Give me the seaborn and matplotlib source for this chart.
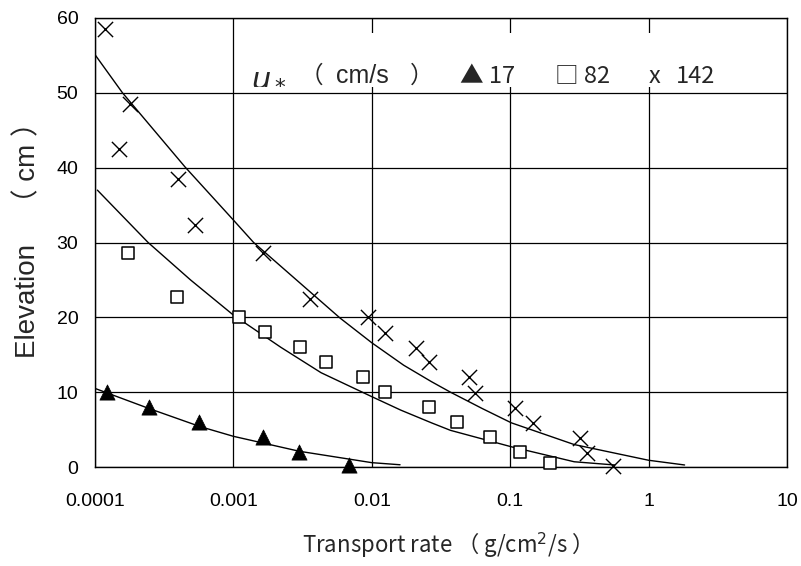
import matplotlib
matplotlib.use("Agg")
import matplotlib.pyplot as plt
from matplotlib.patches import Rectangle
import seaborn as sns
import pandas as pd

# ---- data ----
x17 = [1.22e-4, 2.47e-4, 5.66e-4, 1.65e-3, 2.96e-3, 6.8e-3]
y17 = [10.0, 8.0, 6.0, 4.0, 2.0, 0.3]

x82 = [1.73e-4, 3.9e-4, 1.1e-3, 1.7e-3, 3.05e-3, 4.7e-3, 8.7e-3, 0.0124, 0.026, 0.041, 0.072, 0.117, 0.195]
y82 = [28.6, 22.7, 20.0, 18.0, 16.0, 14.0, 12.0, 10.0, 8.0, 6.0, 4.0, 2.0, 0.5]

x142 = [1.18e-4, 1.5e-4, 1.8e-4, 4.0e-4, 5.3e-4, 1.65e-3, 3.6e-3, 9.4e-3, 0.0125, 0.021, 0.026, 0.050, 0.056, 0.108, 0.145, 0.32, 0.36, 0.55]
y142 = [58.5, 42.5, 48.5, 38.5, 32.4, 28.6, 22.4, 20.0, 17.9, 15.9, 14.0, 12.0, 9.9, 7.9, 5.9, 3.9, 1.9, 0.2]

# fitted curves
cx17 = [1e-4, 2.47e-4, 5.75e-4, 1e-3, 3.0e-3, 0.01, 0.016]
cy17 = [10.5, 7.8, 5.4, 4.1, 2.1, 0.58, 0.3]

cx82 = [1.04e-4, 2.42e-4, 4.9e-4, 1e-3, 2.2e-3, 4.3e-3, 0.01, 0.0162, 0.027, 0.037, 0.102, 0.29, 0.57]
cy82 = [37.0, 30.0, 25.0, 20.3, 16.0, 12.6, 9.4, 7.6, 5.9, 4.9, 2.7, 0.7, 0.27]

cx142 = [1e-4, 1.58e-4, 4.47e-4, 1e-3, 1.4e-3, 5.9e-3, 0.01, 0.017, 0.027, 0.037, 0.063, 0.102, 0.29, 1.0, 1.82]
cy142 = [55.1, 50.0, 40.1, 33.0, 30.0, 19.9, 16.6, 13.6, 11.4, 10.0, 7.8, 5.9, 3.0, 0.9, 0.27]

xticks = [0.0001, 0.001, 0.01, 0.1, 1, 10]
xticklabels = ["0.0001", "0.001", "0.01", "0.1", "1", "10"]
yticks = [0, 10, 20, 30, 40, 50, 60]

pts = pd.concat([
    pd.DataFrame({"x": x17, "y": y17, "u": "17"}),
    pd.DataFrame({"x": x82, "y": y82, "u": "82"}),
    pd.DataFrame({"x": x142, "y": y142, "u": "142"}),
])
curves = pd.concat([
    pd.DataFrame({"x": cx17, "y": cy17, "u": "17"}),
    pd.DataFrame({"x": cx82, "y": cy82, "u": "82"}),
    pd.DataFrame({"x": cx142, "y": cy142, "u": "142"}),
])

sns.set_style("white")
plt.rcParams["font.family"] = ["Liberation Sans", "Noto Sans CJK JP", "DejaVu Sans"]
CJK = ["Noto Sans CJK JP", "DejaVu Sans"]

fig = plt.figure(figsize=(8.01, 5.66), dpi=100)
ax = fig.add_axes([95/801, 1-467/566, (787-95)/801, (467-18)/566])

for u, g in curves.groupby("u", sort=False):
    sns.lineplot(data=g, x="x", y="y", ax=ax, color="black", lw=1.0,
                 sort=False, estimator=None, legend=False)

d = pts[pts.u == "17"]
sns.scatterplot(data=d, x="x", y="y", ax=ax, marker="^", s=120, color="black",
                edgecolor="black", linewidth=0.5, legend=False, zorder=5, clip_on=False)
d = pts[pts.u == "82"]
sns.scatterplot(data=d, x="x", y="y", ax=ax, marker="s", s=75, facecolor="white",
                edgecolor="black", linewidth=1.1, legend=False, zorder=5, clip_on=False)
d = pts[pts.u == "142"]
ax.scatter(d.x, d.y, marker="x", s=120, color="black", linewidths=1.0, zorder=5,
           clip_on=False)

ax.set_xscale("log")
ax.set_xlim(1e-4, 10)
ax.set_ylim(0, 60)
ax.set_xticks(xticks)
ax.set_xticklabels(xticklabels)
ax.set_yticks(yticks)
ax.minorticks_off()
ax.tick_params(axis="both", length=0, labelsize=14, colors="black")
ax.tick_params(axis="x", pad=19)
ax.tick_params(axis="y", pad=12)
ax.grid(True, color="black", lw=0.9)
for s in ax.spines.values():
    s.set_color("black")
    s.set_linewidth(1.0)

ax.set_xlabel("Transport rate （ g/cm$^2$/s ）", fontsize=16,
              family=CJK, labelpad=14)
ax.set_ylabel("Elevation　（ cm ）", fontsize=20)
ax.yaxis.set_label_coords(-0.077, 0.52)

# white band behind the in-plot key
ax.add_patch(Rectangle((245/801, 1-87/566), 500/801, 54/566, transform=fig.transFigure,
                       facecolor="white", edgecolor="none", zorder=3))

yk = 1-76/566
ax.text(251/801, yk, "$u_*$", transform=fig.transFigure, fontsize=22,
        va="center", ha="left", zorder=4)
ax.text(300/801, yk, "（", transform=fig.transFigure, fontsize=17,
        va="center", ha="left", family=CJK, zorder=4)
ax.text(336/801, yk, "cm/s", transform=fig.transFigure, fontsize=18,
        va="center", ha="left", zorder=4)
ax.text(410/801, yk, "）", transform=fig.transFigure, fontsize=17,
        va="center", ha="left", family=CJK, zorder=4)
ax.text(460/801, yk, "▲ 17", transform=fig.transFigure, fontsize=17,
        va="center", ha="left", family=CJK, zorder=4)
ax.text(555/801, yk, "□ 82", transform=fig.transFigure, fontsize=17,
        va="center", ha="left", family=CJK, zorder=4)
ax.text(649/801, yk, "x", transform=fig.transFigure, fontsize=17,
        va="center", ha="left", family=CJK, zorder=4)
ax.text(676/801, yk, "142", transform=fig.transFigure, fontsize=17,
        va="center", ha="left", family=CJK, zorder=4)

fig.savefig("out.png", dpi=100)
